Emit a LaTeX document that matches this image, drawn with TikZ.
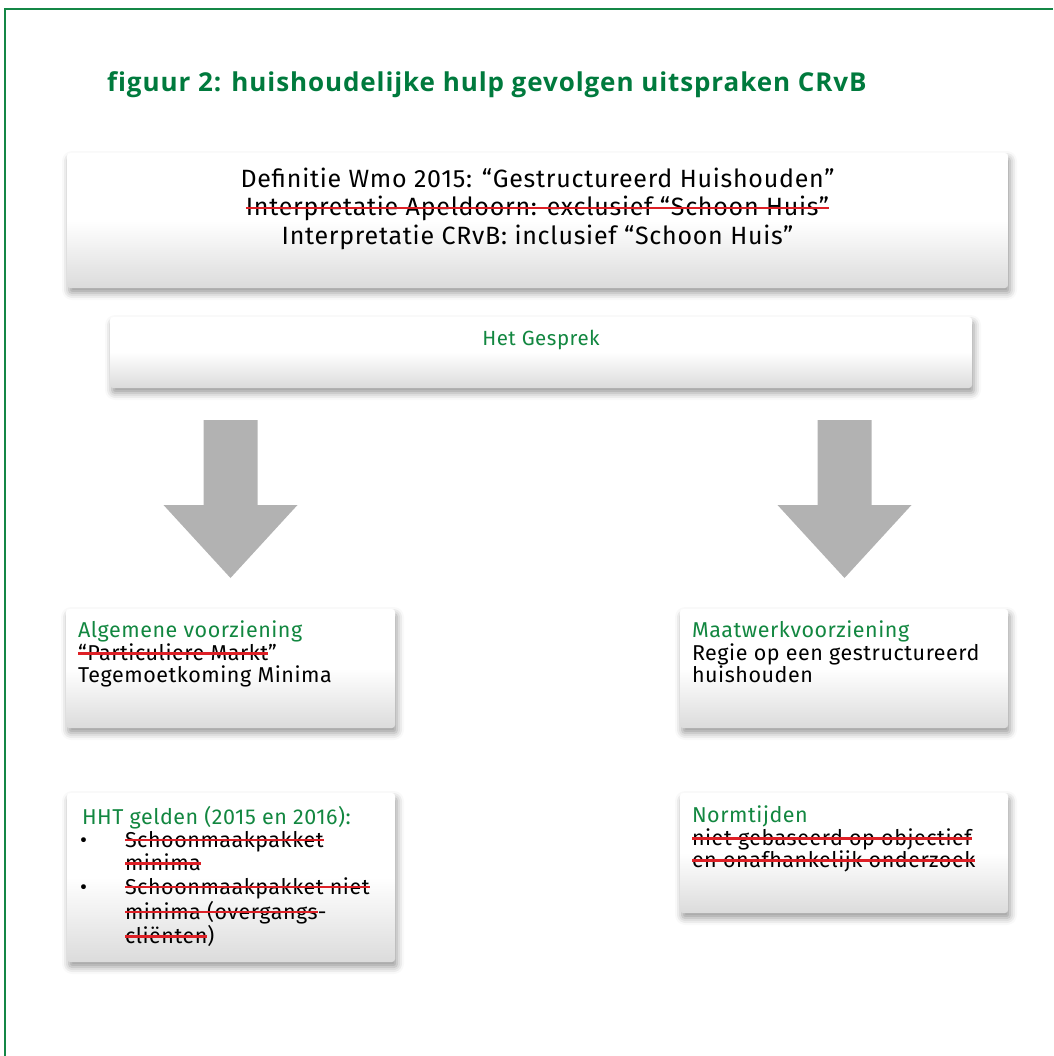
\documentclass[tikz,border=0pt]{standalone}
\usepackage{fontspec}
\setmainfont{Fira Sans}
\newfontfamily\titlefont[Ligatures=NoCommon,LetterSpace=3.5]{Open Sans}
\usepackage{tikz}
\usetikzlibrary{positioning,calc,shadows.blur}

\definecolor{titlegreen}{RGB}{0,122,61}
\definecolor{labelgreen}{RGB}{18,135,64}
\definecolor{strikered}{RGB}{222,32,38}
\definecolor{arrowgray}{RGB}{178,178,178}
\definecolor{framegreen}{RGB}{20,135,70}

\newsavebox\strikebox
\newcommand\rstrike[1]{\sbox\strikebox{#1}\usebox\strikebox\kern-\wd\strikebox\textcolor{strikered}{\rule[0.5ex]{\wd\strikebox}{2.8pt}}}

\begin{document}
\begin{tikzpicture}[x=1pt,y=-1pt,
    box/.style={rectangle, inner sep=0pt, rounded corners=3pt,
        top color=white, bottom color=black!14, middle color=white,
        blur shadow={shadow xshift=2pt,shadow yshift=-5pt,shadow blur radius=7pt,shadow opacity=40}},
    boxtext/.style={inner sep=0pt, align=left, anchor=north west, font=\fontsize{21.5}{22.5}\selectfont\addfontfeatures{LetterSpace=2.5}},
    downarrow/.pic={\fill[arrowgray] (-27,0) -- (27,0) -- (27,85) -- (67,85) -- (0,158) -- (-67,85) -- (-27,85) -- cycle;}]
        \useasboundingbox (0,0) rectangle (1053,1056);

        % frame and title
        \draw[framegreen,line width=1.1pt] (5,1056) -- (5,9) -- (1053,9);
        \node[anchor=base west, inner sep=0pt, text=titlegreen, font=\titlefont\fontsize{26}{28}\selectfont\bfseries] (title) at (107,92) {figuur 2: huishoudelijke hulp gevolgen uitspraken CRvB};

        % top boxes
        \node[box, minimum width=941pt, minimum height=135pt] (defbox) at (537.5,220.5) {};
        \node[inner sep=0pt, align=center, anchor=north, font=\fontsize{25}{28.5}\selectfont\addfontfeatures{LetterSpace=3}] (deftext) at ([shift={(0,15)}]defbox.north) {Definitie Wmo 2015: “Gestructureerd Huishouden”\\ \rstrike{Interpretatie Apeldoorn: exclusief “Schoon Huis”}\\ Interpretatie CRvB: inclusief “Schoon Huis”};

        \node[box, minimum width=862pt, minimum height=71pt] (gesprekbox) at (541,352.5) {};
        \node[inner sep=0pt, anchor=base, text=labelgreen, font=\fontsize{20.5}{22}\selectfont\addfontfeatures{LetterSpace=2.5}] (gesprektext) at (541,345) {Het Gesprek};

        % arrows
        \pic (leftarrow) at (230.5,420) {downarrow};
        \pic (rightarrow) at (844.5,420) {downarrow};

        % left side boxes
        \node[box, minimum width=329pt, minimum height=119pt] (algbox) at (230.5,668.5) {};
        \node[boxtext] (algtext) at ([shift={(12,12)}]algbox.north west) {\textcolor{labelgreen}{Algemene voorziening}\\ \rstrike{“Particuliere Markt}”\\ Tegemoetkoming Minima};

        \node[box, minimum width=328pt, minimum height=169pt] (hhtbox) at (231,877.5) {};
        \node[boxtext] (hhttext) at ([shift={(13,13)}]hhtbox.north west) {\begin{tabular}{@{}p{45pt}@{}l@{}}
            \multicolumn{2}{@{}l@{}}{\textcolor{labelgreen}{\kern2pt HHT gelden (2015 en 2016):}}\\
            • & \rstrike{Schoonmaakpakket}\\
              & \rstrike{minima}\\
            • & \rstrike{Schoonmaakpakket niet}\\
              & \rstrike{minima (overgangs}-\\
              & \rstrike{cliënten})
        \end{tabular}};

        % right side boxes
        \node[box, minimum width=328pt, minimum height=119pt] (maatbox) at (844,668.5) {};
        \node[boxtext] (maattext) at ([shift={(12,12)}]maatbox.north west) {\textcolor{labelgreen}{Maatwerkvoorziening}\\ Regie op een gestructureerd\\ huishouden};

        \node[box, minimum width=328pt, minimum height=120pt] (normbox) at (844,853) {};
        \node[boxtext] (normtext) at ([shift={(12,13)}]normbox.north west) {\textcolor{labelgreen}{Normtijden}\\ \rstrike{niet gebaseerd op objectief}\\ \rstrike{en onafhankelijk onderzoek}};
    \end{tikzpicture}
\end{document}
